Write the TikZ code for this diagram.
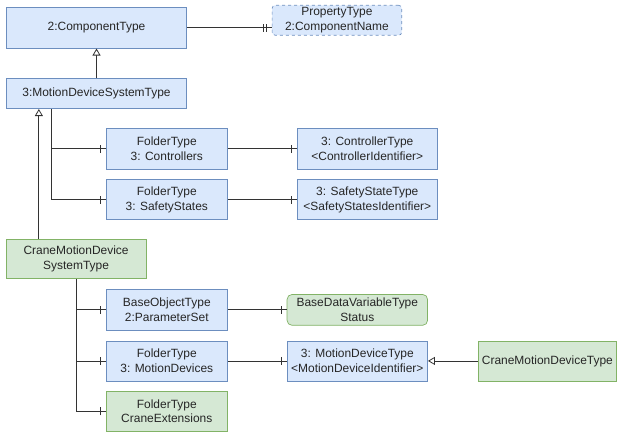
\documentclass[tikz,border=0pt]{standalone}
\usepackage{fontspec}
\setmainfont{Liberation Sans}
\usetikzlibrary{shapes,positioning,calc,arrows.meta,decorations.markings}

\definecolor{lineblue}{HTML}{6C8EBF}
\definecolor{fillblue}{HTML}{DAE8FC}
\definecolor{linegreen}{HTML}{82B366}
\definecolor{fillgreen}{HTML}{D5E8D4}
\definecolor{wire}{HTML}{333333}

\begin{document}
\begin{tikzpicture}
            [
            font=\fontsize{12}{14.5}\selectfont,
            blue box/.style={rectangle, draw=lineblue, fill=fillblue, text=black!85,
                align=center, minimum width=122pt, minimum height=40pt, inner sep=2pt,
                line width=0.7pt},
            green box/.style={blue box, draw=linegreen, fill=fillgreen},
            link/.style={draw=wire, line width=0.8pt},
            one/.style={link, postaction={decorate}, decoration={markings,
                mark=at position -5pt with {\draw[wire, line width=0.8pt] (0,-4pt) -- (0,4pt);}}},
            two/.style={link, postaction={decorate}, decoration={markings,
                mark=at position -5pt with {\draw[wire, line width=0.8pt] (0,-4pt) -- (0,4pt);},
                mark=at position -8pt with {\draw[wire, line width=0.8pt] (0,-4pt) -- (0,4pt);}}},
            inherit/.style={link, -{Triangle[open, length=7pt, width=8pt, fill=white]}}
            ]
            \node (ctype) [blue box, minimum width=181pt, minimum height=41pt] {2:ComponentType};
            \node (prop) [right=85pt of ctype, yshift=7.5pt, blue box, dashed, rounded corners=3pt,
                minimum width=130pt, minimum height=30pt] {PropertyType\\2:ComponentName};
            \node (mdst) [below=30pt of ctype, blue box, minimum width=181pt, minimum height=30pt]
                {3:MotionDeviceSystemType};

            % Folders below the motion device system
            \node (ctrlf) [below right=19pt and 100pt of mdst.south west, blue box, minimum height=41pt]
                {FolderType\\3: Controllers};
            \node (ctrl) [right=69pt of ctrlf, blue box, minimum width=141pt, minimum height=41pt]
                {3: ControllerType\\<ControllerIdentifier>};
            \node (safef) [below=10pt of ctrlf, blue box] {FolderType\\3: SafetyStates};
            \node (safe) [right=69pt of safef, blue box, minimum width=141pt]
                {3: SafetyStateType\\<SafetyStatesIdentifier>};

            % Crane subtype
            \node (cmdst) [below right=130pt and 0pt of mdst.south west, green box, minimum width=140pt]
                {CraneMotionDevice\\SystemType};
            \node (param) [below right=10pt and 100pt of cmdst.south west, blue box, minimum height=41pt]
                {BaseObjectType\\2:ParameterSet};
            \node (status) [right=59pt of param, green box, rounded corners=5pt, minimum width=141pt,
                minimum height=31pt] {BaseDataVariableType\\Status};
            \node (mdevf) [below=10pt of param, blue box] {FolderType\\3: MotionDevices};
            \node (mdev) [right=59pt of mdevf, blue box, minimum width=141pt]
                {3: MotionDeviceType\\<MotionDeviceIdentifier>};
            \node (cmdt) [right=50pt of mdev, green box, minimum width=139pt] {CraneMotionDeviceType};
            \node (crext) [below=10pt of mdevf, green box] {FolderType\\CraneExtensions};

            \coordinate (trunk a) at ([xshift=46pt]mdst.south west);
            \coordinate (up) at ([xshift=33pt]cmdst.north west);

            \draw [two] (ctype.east) -- (ctype.east -| prop.west);
            \draw [inherit] (mdst) -- (ctype);
            \draw [inherit] (up) -- (up |- mdst.south);
            \draw [inherit] (cmdt) -- (mdev);

            \foreach \j in {ctrlf,safef}
            \draw [one] (trunk a) |- (\j.west);
            \foreach \j in {param,mdevf,crext}
            \draw [one] (cmdst.south) |- (\j.west);
            \foreach \i/\j in {ctrlf/ctrl,safef/safe,param/status,mdevf/mdev}
            \draw [one] (\i) -- (\j);

            \useasboundingbox ([shift={(-6pt,7pt)}]ctype.north west) rectangle ++(617pt,-430pt);
        \end{tikzpicture}
\end{document}
